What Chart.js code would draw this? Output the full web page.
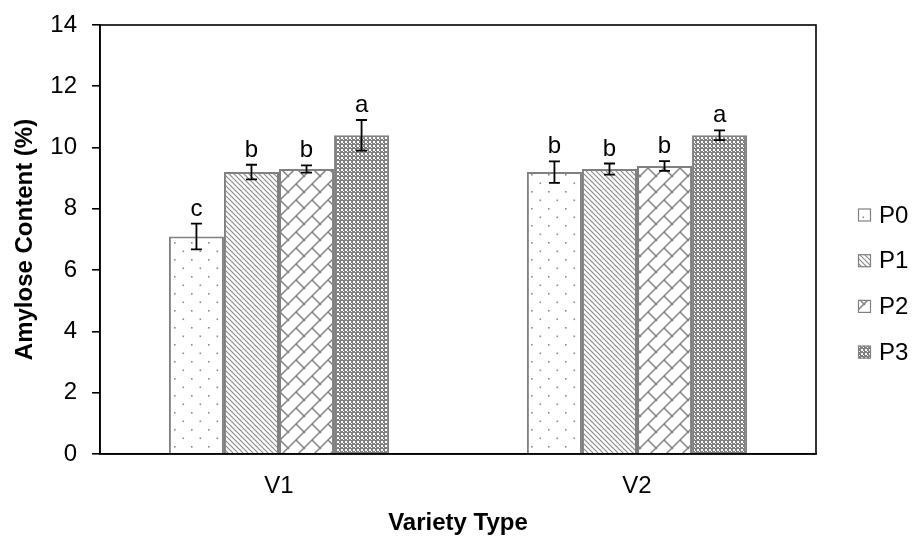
<!DOCTYPE html>
<html><head><meta charset="utf-8">
<script src="https://cdn.jsdelivr.net/npm/chart.js@4"></script>
<style>html,body{margin:0;padding:0;background:#fff}</style>
</head><body>
<canvas id="c" width="913" height="538"></canvas>
<script>
// ---- data ----
const categories = ['V1', 'V2'];
const seriesNames = ['P0', 'P1', 'P2', 'P3'];
const P0 = [7.1, 9.2];
const P1 = [9.2, 9.3];
const P2 = [9.3, 9.4];
const P3 = [10.4, 10.4];
const errP0 = [0.42, 0.35];
const errP1 = [0.24, 0.18];
const errP2 = [0.12, 0.16];
const errP3 = [0.5, 0.16];
const letP0 = ['c', 'b'];
const letP1 = ['b', 'b'];
const letP2 = ['b', 'b'];
const letP3 = ['a', 'a'];
const yMin = 0, yMax = 14, yStep = 2;
const xTitle = 'Variety Type';
const yTitle = 'Amylose Content (%)';

const FONT = "'Liberation Sans', Arial, sans-serif";
const GRAY = '#808080';
const canvas = document.getElementById('c');
const ctx = canvas.getContext('2d');

function makePattern(w, h, draw) {
  const c = document.createElement('canvas');
  c.width = w; c.height = h;
  const g = c.getContext('2d');
  g.fillStyle = '#fff'; g.fillRect(0, 0, w, h);
  draw(g);
  return ctx.createPattern(c, 'repeat');
}
function seg(g, x1, y1, x2, y2) { g.beginPath(); g.moveTo(x1, y1); g.lineTo(x2, y2); g.stroke(); }

const patDots = makePattern(17, 17, g => {
  g.fillStyle = '#8a8a8a';
  g.fillRect(4, 4, 1.6, 1.6);
  g.fillRect(12.5, 12.5, 1.6, 1.6);
});
const patDiag = makePattern(5, 5, g => {
  g.strokeStyle = '#8c8c8c'; g.lineWidth = 1.2;
  seg(g, -1, -1, 6, 6);
  seg(g, -1, 4, 1, 6);
  seg(g, 4, -1, 6, 1);
});
const patBrick = makePattern(16, 16, g => {
  g.strokeStyle = GRAY; g.lineWidth = 1.5;
  seg(g, -1, 17, 17, -1);
  seg(g, 8, 8, 17, 17);
  seg(g, -1, -1, 1, 1);
});
const patGrid = makePattern(4, 4, g => {
  g.fillStyle = '#808080';
  g.fillRect(0, 0, 4, 4);
  g.fillStyle = '#ffffff';
  g.fillRect(1, 1, 2, 2);
  g.fillRect(3, 3, 1, 1);
});

const values = [P0, P1, P2, P3];
const errors = [errP0, errP1, errP2, errP3];
const letters = [letP0, letP1, letP2, letP3];
const patterns = [patDots, patDiag, patBrick, patGrid];

const datasets = seriesNames.map((n, i) => ({
  label: n,
  data: values[i],
  backgroundColor: patterns[i],
  borderColor: GRAY,
  borderWidth: 2,
  barPercentage: 1.0,
  categoryPercentage: 0.615
}));

const extras = {
  id: 'extras',
  afterDatasetsDraw(chart) {
    const c = chart.ctx;
    const ys = chart.scales.y;
    const a = chart.chartArea;
    c.save();
    chart.data.datasets.forEach((ds, i) => {
      const meta = chart.getDatasetMeta(i);
      meta.data.forEach((el, j) => {
        const v = ds.data[j], e = errors[i][j];
        const yt = ys.getPixelForValue(v + e), yb = ys.getPixelForValue(v - e);
        c.strokeStyle = '#000'; c.lineWidth = 1.8;
        c.beginPath();
        c.moveTo(el.x, yt); c.lineTo(el.x, yb);
        c.moveTo(el.x - 5.5, yt); c.lineTo(el.x + 5.5, yt);
        c.moveTo(el.x - 5.5, yb); c.lineTo(el.x + 5.5, yb);
        c.stroke();
        c.fillStyle = '#000';
        c.font = '24px ' + FONT;
        c.textAlign = 'center'; c.textBaseline = 'alphabetic';
        c.fillText(letters[i][j], el.x, yt - 8);
      });
    });
    c.strokeStyle = '#000'; c.lineWidth = 1.6;
    c.strokeRect(a.left, a.top, a.right - a.left, a.bottom - a.top);
    const lx = 858, ly0 = 215, dy = 45.7;
    chart.data.datasets.forEach((ds, i) => {
      const cy = ly0 + i * dy;
      c.fillStyle = ds.backgroundColor;
      c.fillRect(lx, cy - 6.5, 13, 13);
      c.strokeStyle = GRAY; c.lineWidth = 1.2;
      c.strokeRect(lx + 0.5, cy - 6, 12, 12);
      c.fillStyle = '#000';
      c.font = '24px ' + FONT;
      c.textAlign = 'left'; c.textBaseline = 'middle';
      c.fillText(ds.label, 879, cy + 1);
    });
    c.restore();
  }
};

new Chart(canvas, {
  type: 'bar',
  data: { labels: categories, datasets },
  options: {
    responsive: false,
    animation: false,
    devicePixelRatio: 1,
    layout: { padding: { top: 25, right: 97, left: 0, bottom: 0 } },
    plugins: { legend: { display: false }, tooltip: { enabled: false } },
    scales: {
      x: {
        grid: { display: false },
        border: { display: true, color: '#000', width: 1.6 },
        ticks: { color: '#000', font: { family: FONT, size: 24 }, padding: 10 },
        title: { display: true, text: xTitle, color: '#000', font: { family: FONT, size: 24, weight: 'bold' }, padding: { top: 0, bottom: 0 } },
        afterFit(s) { s.height = 84; s.paddingLeft = 0; s.paddingRight = 0; }
      },
      y: {
        min: yMin, max: yMax,
        grid: { display: true, drawOnChartArea: false, drawTicks: true, tickLength: 8, color: '#000', lineWidth: 1.6 },
        border: { display: true, color: '#000', width: 1.6 },
        ticks: { stepSize: yStep, color: '#000', font: { family: FONT, size: 24 }, padding: 15 },
        title: { display: true, text: yTitle, color: '#000', font: { family: FONT, size: 24, weight: 'bold' }, padding: { top: 10.6, bottom: 0 } },
        afterFit(s) { s.width = 100; s.paddingTop = 0; s.paddingBottom = 0; }
      }
    }
  },
  plugins: [extras]
});
</script>
</body></html>
